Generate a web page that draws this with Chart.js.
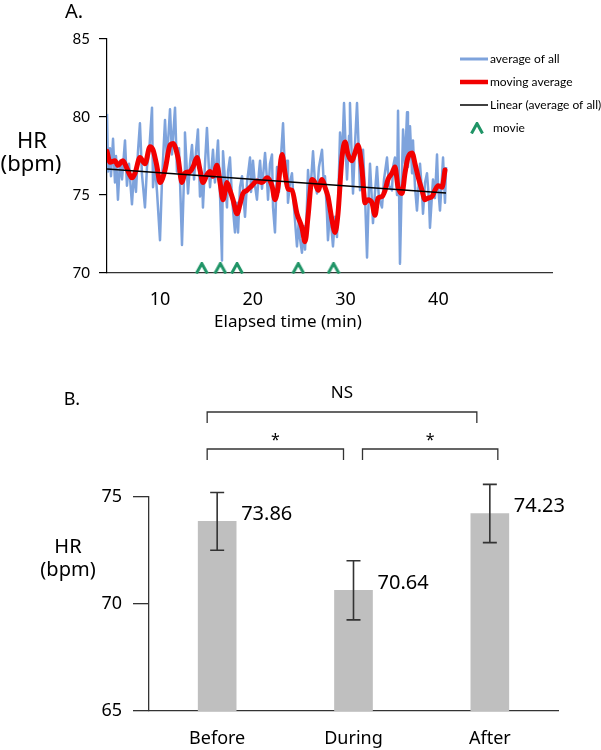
<!DOCTYPE html>
<html>
<head>
<meta charset="utf-8">
<script src="https://cdn.jsdelivr.net/npm/chart.js@4.4.1/dist/chart.umd.min.js"></script>
<style>
body { margin: 0; background: #fff; }
#wrap { position: relative; width: 601px; height: 750px; }
#chartA { position: absolute; left: 0; top: 0; }
#chartB { position: absolute; left: 0; top: 335px; }
</style>
</head>
<body>
<div id="wrap">
<canvas id="chartA" width="601" height="335"></canvas>
<canvas id="chartB" width="601" height="415"></canvas>
</div>
<script>
// ---- panel A data (minutes, bpm) ----
const avgAll = [
  [4.29,80.2],[4.40,76.5],[4.61,78.0],[4.72,76.2],[4.94,78.6],[5.15,75.8],[5.26,77.5],[5.47,74.7],[5.69,77.2],[5.91,76.0],
  [6.23,78.5],[6.44,75.6],[6.66,77.0],[6.98,74.4],[7.20,76.5],[7.41,75.2],[7.63,77.8],[7.84,79.6],[8.06,76.3],[8.38,74.2],
  [8.60,76.8],[8.81,77.6],[9.14,80.6],[9.25,75.5],[9.46,77.0],[9.68,75.2],[10.00,72.1],[10.22,76.0],[10.54,79.8],[10.75,77.2],
  [11.08,80.5],[11.29,77.6],[11.62,80.6],[11.83,76.5],[12.05,78.0],[12.37,71.8],[12.59,76.2],[12.69,79.0],[13.02,75.1],[13.23,77.0],
  [13.45,78.2],[13.67,76.0],[13.88,77.8],[14.09,79.2],[14.31,74.9],[14.53,76.2],[14.63,74.2],[14.85,77.0],[15.06,79.3],[15.28,76.6],
  [15.39,75.5],[15.71,77.9],[15.92,75.8],[16.25,78.5],[16.47,75.0],[16.68,70.8],[16.79,77.8],[17.00,76.0],[17.22,74.2],[17.33,76.5],
  [17.54,77.4],[17.76,74.8],[18.08,72.6],[18.30,74.5],[18.41,72.6],[18.62,75.5],[18.84,76.2],[19.16,73.6],[19.38,75.8],[19.70,77.4],
  [19.81,75.2],[20.02,77.2],[20.24,75.6],[20.45,74.7],[20.67,76.5],[20.78,77.2],[20.99,75.4],[21.32,77.7],[21.53,76.0],[21.64,74.7],
  [21.85,77.0],[22.07,77.6],[22.18,74.2],[22.39,72.6],[22.61,76.8],[22.82,75.2],[23.04,77.5],[23.26,79.6],[23.47,76.4],[23.69,77.2],
  [23.79,74.5],[24.01,75.8],[24.22,76.4],[24.44,74.2],[24.76,71.7],[24.98,73.5],[25.09,72.2],[25.30,71.3],[25.52,73.0],[25.63,71.5],
  [25.84,74.4],[25.95,76.6],[26.16,74.8],[26.49,77.8],[26.70,75.8],[26.92,75.1],[27.13,76.8],[27.46,77.9],[27.67,75.5],[27.78,76.2],
  [27.99,73.8],[28.10,72.1],[28.32,74.0],[28.64,71.7],[28.86,73.6],[29.07,72.3],[29.29,76.5],[29.40,79.0],[29.61,77.2],[29.83,80.9],
  [30.04,77.5],[30.15,76.0],[30.37,78.8],[30.47,80.9],[30.69,77.0],[30.80,75.1],[31.01,78.2],[31.23,80.9],[31.44,77.5],[31.55,75.3],
  [31.77,76.8],[31.88,77.9],[32.09,75.0],[32.31,71.0],[32.52,75.5],[32.63,77.0],[32.84,74.6],[32.95,73.2],[33.17,75.2],[33.38,76.8],
  [33.59,74.8],[33.92,74.2],[34.14,76.0],[34.46,77.4],[34.68,75.6],[35.00,75.3],[35.11,76.8],[35.32,77.4],[35.54,75.0],[35.65,80.4],
  [35.86,70.6],[36.08,76.5],[36.19,79.2],[36.40,77.0],[36.62,80.3],[36.72,76.8],[36.94,79.4],[37.16,76.4],[37.26,78.5],[37.48,75.5],
  [37.69,74.0],[37.91,76.0],[38.02,77.0],[38.23,75.2],[38.34,73.8],[38.56,75.8],[38.77,76.4],[38.99,74.6],[39.09,72.9],[39.31,75.0],
  [39.42,76.0],[39.63,74.8],[39.85,77.6],[39.96,75.6],[40.17,74.0],[40.39,76.2],[40.50,77.4],[40.71,74.5],[40.82,76.8]
];

const movingAvg = [
  [4.29,77.8],[4.61,77.1],[5.15,77.2],[5.47,76.9],[6.01,77.2],[6.44,76.7],[6.98,76.1],[7.31,76.4],[7.84,77.4],[8.38,77.0],
  [8.92,78.1],[9.25,77.9],[9.68,76.8],[10.00,75.8],[10.54,76.6],[11.08,78.2],[11.40,78.3],[11.94,77.4],[12.37,75.8],[12.69,76.4],
  [13.23,76.5],[13.56,76.8],[13.99,77.4],[14.31,76.6],[14.63,75.8],[15.06,76.3],[15.39,76.5],[15.71,76.2],[16.14,76.9],[16.47,75.8],
  [16.79,74.7],[17.22,75.8],[17.54,75.3],[17.87,74.7],[18.30,73.8],[18.62,74.4],[18.94,75.1],[19.38,75.3],[19.91,75.6],[20.45,75.9],
  [20.99,75.8],[21.53,76.1],[22.07,75.6],[22.39,74.7],[22.72,75.5],[23.15,77.6],[23.47,76.4],[23.79,75.4],[24.22,75.3],[24.76,73.8],
  [25.30,72.9],[25.63,72.0],[25.95,73.6],[26.38,76.0],[26.70,75.8],[27.03,75.3],[27.46,76.0],[27.78,75.5],[28.10,74.9],[28.53,73.4],
  [28.86,72.6],[29.18,73.8],[29.61,77.4],[29.94,78.4],[30.26,77.6],[30.69,77.2],[31.01,77.7],[31.34,78.2],[31.77,76.6],[32.09,74.5],
  [32.41,74.7],[32.84,74.5],[33.17,73.7],[33.49,74.8],[33.92,74.9],[34.25,75.3],[34.57,76.0],[35.00,76.4],[35.32,76.8],[35.65,75.5],
  [36.08,75.1],[36.40,76.4],[36.72,77.4],[37.16,77.7],[37.48,77.0],[37.80,76.2],[38.23,75.3],[38.56,74.7],[38.88,74.8],[39.31,74.9],
  [39.63,75.3],[39.96,75.6],[40.39,75.5],[40.71,76.6]
];

const trendLine = [[4.29, 76.67], [40.82, 75.13]];
const movieTimes = [14.5, 16.5, 18.3, 24.9, 28.7];
const movieLevel = 70.32;
const xTicksA = [10, 20, 30, 40];
const yTicksA = [70, 75, 80, 85];

// ---- panel B data ----
const phases = ['Before', 'During', 'After'];
const meanHR = [73.86, 70.64, 74.23];
const errHR = [1.35, 1.38, 1.36];
const brackets = [
  { from: 0, to: 2, label: 'NS' },
  { from: 0, to: 1, label: '*' },
  { from: 1, to: 2, label: '*' }
];

const toXY = arr => arr.map(p => ({ x: p[0], y: p[1] }));

function makeChevron(color) {
  const c = document.createElement('canvas');
  c.width = 14;
  c.height = 12;
  const g = c.getContext('2d');
  g.strokeStyle = color;
  g.lineWidth = 3;
  g.beginPath();
  g.moveTo(1.5, 11.5);
  g.lineTo(7, 1.5);
  g.lineTo(12.5, 11.5);
  g.stroke();
  return c;
}

const verde = '#1f9466';
const chevron = makeChevron(verde);

const annotateA = {
  id: 'annotateA',
  afterDraw(chart) {
    const ctx = chart.ctx;
    ctx.save();
    ctx.fillStyle = '#000';
    ctx.textBaseline = 'middle';
    ctx.textAlign = 'center';
    ctx.font = '20px "Noto Sans"';
    ctx.fillText('A.', 74, 12);
    ctx.font = '22px "Noto Sans"';
    ctx.fillText('HR', 32, 142);
    ctx.fillText('(bpm)', 31, 165);
    ctx.font = '17px "Noto Sans"';
    ctx.fillText('Elapsed time (min)', 288, 322);

    // legenda
    const ds = chart.data.datasets;
    ctx.textAlign = 'left';
    ctx.font = '12px Lato';
    for (let i = 0; i < 3; i++) {
      const y = 59 + 23 * i;
      ctx.strokeStyle = ds[i].borderColor;
      ctx.lineWidth = ds[i].legendWidth;
      ctx.beginPath();
      ctx.moveTo(460, y);
      ctx.lineTo(488, y);
      ctx.stroke();
      ctx.fillText(ds[i].label, 490, y);
    }
    ctx.drawImage(chevron, 470, 122);
    ctx.fillText(ds[3].label, 493, 128);
    ctx.restore();
  }
};

new Chart(document.getElementById('chartA'), {
  type: 'line',
  data: {
    datasets: [
      { label: 'average of all', data: toXY(avgAll), borderColor: '#7ea3dc', borderWidth: 2.5, borderJoinStyle: 'round', legendWidth: 3, pointRadius: 0, order: 4 },
      { label: 'moving average', data: toXY(movingAvg), borderColor: '#f20000', borderWidth: 5, borderJoinStyle: 'round', borderCapStyle: 'round', cubicInterpolationMode: 'monotone', legendWidth: 4.5, pointRadius: 0, order: 3 },
      { label: 'Linear (average of all)', data: toXY(trendLine), borderColor: '#000', borderWidth: 1.4, legendWidth: 1.5, pointRadius: 0, order: 2 },
      { label: 'movie', data: movieTimes.map(t => ({ x: t, y: movieLevel })), showLine: false, pointStyle: chevron, pointRadius: 7, clip: false, order: 1 }
    ]
  },
  options: {
    responsive: false,
    animation: false,
    layout: { padding: { top: 39, right: 49, left: 0, bottom: 0 } },
    scales: {
      x: {
        type: 'linear',
        min: 4.29,
        max: 52.24,
        border: { color: '#333', width: 1.3 },
        grid: { display: false, drawTicks: false },
        ticks: { font: { family: 'Noto Sans', size: 18 }, color: '#000', padding: 16 },
        afterBuildTicks: s => { s.ticks = xTicksA.map(v => ({ value: v })); },
        afterFit: s => { s.height = 62; }
      },
      y: {
        min: 70,
        max: 85,
        border: { color: '#000', width: 1.2 },
        grid: { drawOnChartArea: false, tickLength: 8, color: '#000', lineWidth: 1.2 },
        ticks: { font: { family: 'Lato', size: 15 }, color: '#000', padding: 9 },
        afterBuildTicks: s => { s.ticks = yTicksA.map(v => ({ value: v })); },
        afterFit: s => { s.width = 107; }
      }
    },
    plugins: { legend: { display: false }, tooltip: { enabled: false } }
  },
  plugins: [annotateA]
});

const annotateB = {
  id: 'annotateB',
  afterDatasetsDraw(chart) {
    const ctx = chart.ctx;
    const xs = chart.scales.x;
    const ys = chart.scales.y;
    const top = chart.chartArea.top;
    const meta = chart.getDatasetMeta(0);
    ctx.save();

    // barras de erro e valores
    ctx.strokeStyle = '#333';
    ctx.lineWidth = 1.6;
    ctx.fillStyle = '#000';
    ctx.font = '20px "Noto Sans"';
    ctx.textAlign = 'left';
    ctx.textBaseline = 'middle';
    meta.data.forEach((bar, i) => {
      const yTop = ys.getPixelForValue(meanHR[i] + errHR[i]);
      const yBot = ys.getPixelForValue(meanHR[i] - errHR[i]);
      ctx.beginPath();
      ctx.moveTo(bar.x, yTop); ctx.lineTo(bar.x, yBot);
      ctx.moveTo(bar.x - 7, yTop); ctx.lineTo(bar.x + 7, yTop);
      ctx.moveTo(bar.x - 7, yBot); ctx.lineTo(bar.x + 7, yBot);
      ctx.stroke();
      ctx.fillText(meanHR[i].toFixed(2), bar.x + bar.width / 2 + 5, bar.y - 7);
    });

    // colchetes de significancia
    const offsets = [[-10, -13], [-10, -10], [9, 8]];
    const rows = [top - 85, top - 48, top - 48];
    ctx.lineWidth = 1.3;
    ctx.textAlign = 'center';
    brackets.forEach((b, i) => {
      const x1 = xs.getPixelForValue(b.from) + offsets[i][0];
      const x2 = xs.getPixelForValue(b.to) + offsets[i][1];
      const y = rows[i];
      ctx.beginPath();
      ctx.moveTo(x1, y + 11); ctx.lineTo(x1, y); ctx.lineTo(x2, y); ctx.lineTo(x2, y + 11);
      ctx.stroke();
      if (b.label === '*') {
        ctx.font = '16px "Noto Sans"';
        ctx.fillText(b.label, (x1 + x2) / 2, y - 9);
      } else {
        ctx.font = '17px "Noto Sans"';
        ctx.fillText(b.label, (x1 + x2) / 2, y - 19);
      }
    });

    ctx.font = '18px "Noto Sans"';
    ctx.fillText('B.', 72, 65);
    ctx.font = '20px "Noto Sans"';
    ctx.fillText('HR', 68, 212);
    ctx.fillText('(bpm)', 68, 235);
    ctx.restore();
  }
};

new Chart(document.getElementById('chartB'), {
  type: 'bar',
  data: {
    labels: phases,
    datasets: [{ data: meanHR, backgroundColor: '#bfbfbf', barThickness: 38 }]
  },
  options: {
    responsive: false,
    animation: false,
    layout: { padding: { top: 162, right: 43, left: 0, bottom: 0 } },
    scales: {
      x: {
        border: { color: '#333', width: 1.3 },
        grid: { display: false, drawTicks: false },
        ticks: { font: { family: 'Noto Sans', size: 18 }, color: '#000', padding: 17 },
        afterFit: s => { s.height = 39; }
      },
      y: {
        min: 65,
        max: 75,
        border: { color: '#333', width: 1.3 },
        grid: { drawOnChartArea: false, tickLength: 16, color: '#333', lineWidth: 1.3 },
        ticks: { stepSize: 5, font: { family: 'Noto Sans', size: 18 }, color: '#000', padding: 11 },
        afterFit: s => { s.width = 149; }
      }
    },
    plugins: { legend: { display: false }, tooltip: { enabled: false } }
  },
  plugins: [annotateB]
});
</script>
</body>
</html>
